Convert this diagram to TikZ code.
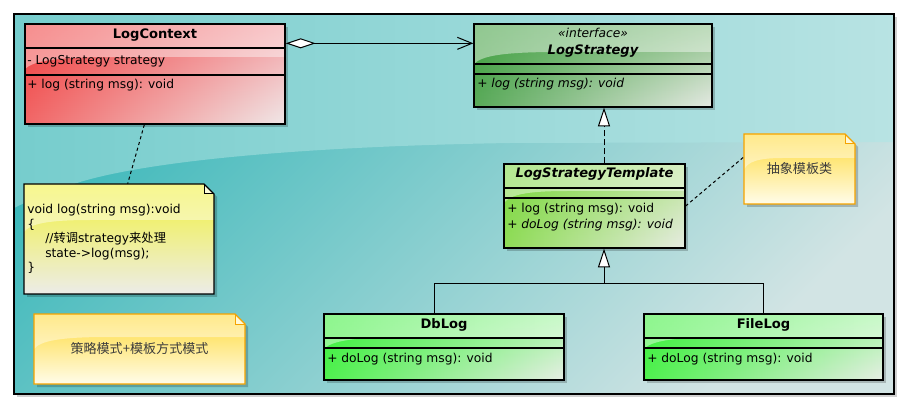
\documentclass[tikz,border=0pt]{standalone}
\usepackage{fontspec}
\setmainfont{DejaVu Sans}
\newfontfamily\cjk{Noto Sans CJK SC}
\usetikzlibrary{arrows.meta,fadings}
\tikzfading[name=fadebottom, top color=transparent!100, bottom color=transparent!0]
\definecolor{bgTL}{HTML}{3CB8BA}
\definecolor{bgBR}{HTML}{D2E4E4}
\definecolor{bandL}{HTML}{76CDCD}
\definecolor{bandR}{HTML}{B8E3E3}
\definecolor{ctxD}{HTML}{F03E3E}
\definecolor{ctxM}{HTML}{F4A0A4}
\definecolor{ctxB}{HTML}{F26868}
\definecolor{ctxP}{HTML}{F0E8E8}
\definecolor{stD}{HTML}{40A040}
\definecolor{stM}{HTML}{8EC28A}
\definecolor{stB}{HTML}{5AAA5A}
\definecolor{stP}{HTML}{E6EAE4}
\definecolor{tpD}{HTML}{7CD840}
\definecolor{tpM}{HTML}{B8E494}
\definecolor{tpB}{HTML}{90DC58}
\definecolor{tpP}{HTML}{E8ECE4}
\definecolor{lgD}{HTML}{3CF03C}
\definecolor{lgM}{HTML}{A0F4A0}
\definecolor{lgB}{HTML}{50F050}
\definecolor{lgP}{HTML}{E8EEE6}
\definecolor{codeT}{HTML}{F2F23C}
\definecolor{codeB}{HTML}{ECECE8}
\definecolor{noteT}{HTML}{FFDA38}
\definecolor{noteB}{HTML}{FFFCEA}
\definecolor{noteBorder}{HTML}{F5A300}
\definecolor{cjkText}{HTML}{3C3C3C}
% #1 name, #2 x1, #3 y1, #4 x2, #5 y2, #6 colour prefix, #7 gloss y
\newcommand{\umlbox}[7]{%
  \fill[black,opacity=0.2] ({#2+3},{#3+3}) rectangle ({#4+3},{#5+3});
  \shade[left color=#6D,right color=#6M] (#2,#3) rectangle (#4,#5);
  \shade[left color=#6B,right color=#6P,path fading=fadebottom] (#2,#3) rectangle (#4,#5);
  \fill[white,opacity=0.42] (#2,#3) -- (#4,#3) -- (#4,#7) -- ({#2+0.35*(#4-#2)},#7)
     .. controls ({#2+0.12*(#4-#2)},#7) and ({#2+0.03*(#4-#2)},{#7+4}) .. (#2,{#7+12}) -- cycle;
  \node[umlnode, minimum width={(#4-#2)*0.75pt}, minimum height={(#5-#3)*0.75pt}] (#1) at ({(#2+#4)/2},{(#3+#5)/2}) {};
}
% #1 name, #2 x1, #3 y1, #4 x2, #5 y2, #6 top, #7 bottom, #8 border, #9 gloss y
\newcommand{\umlnote}[9]{%
  \fill[black,opacity=0.2] ({#2+3},{#3+3}) -- ({#4-7},{#3+3}) -- ({#4+3},{#3+13}) -- ({#4+3},{#5+3}) -- ({#2+3},{#5+3}) -- cycle;
  \shade[top color=#6,bottom color=#7] (#2,#3) -- ({#4-10},#3) -- (#4,{#3+10}) -- (#4,#5) -- (#2,#5) -- cycle;
  \begin{scope}
    \clip (#2,#3) -- ({#4-10},#3) -- (#4,{#3+10}) -- (#4,#5) -- (#2,#5) -- cycle;
    \fill[white,opacity=0.42] (#2,#3) -- (#4,#3) -- (#4,#9) -- ({#2+0.35*(#4-#2)},#9)
       .. controls ({#2+0.12*(#4-#2)},#9) and ({#2+0.03*(#4-#2)},{#9+4}) .. (#2,{#9+12}) -- cycle;
  \end{scope}
  \fill[white!80!#6] ({#4-10},#3) -- ({#4-10},{#3+10}) -- (#4,{#3+10}) -- cycle;
  \draw[#8,line width=1pt,line join=miter] (#2,#3) -- ({#4-10},#3) -- (#4,{#3+10}) -- (#4,#5) -- (#2,#5) -- cycle;
  \draw[#8,line width=0.75pt] ({#4-10},#3) -- ({#4-10},{#3+10}) -- (#4,{#3+10});
  \node[inner sep=0pt, minimum width={(#4-#2)*0.75pt}, minimum height={(#5-#3)*0.75pt}] (#1) at ({(#2+#4)/2},{(#3+#5)/2}) {};
}
\begin{document}
\begin{tikzpicture}[x=0.75pt,y=-0.75pt,
  umlnode/.style={draw=black,line width=1pt,inner sep=0pt,rectangle},
  txt/.style={inner sep=0pt,font=\fontsize{9.2}{11}\selectfont,text=black},
  ttl/.style={inner sep=0pt,font=\fontsize{9.8}{12}\selectfont\bfseries,text=black},
  code/.style={inner sep=0pt,font=\fontsize{9.2}{11}\selectfont,text=black},
  cjknote/.style={inner sep=0pt,font=\fontsize{9.8}{12}\selectfont\cjk,text=cjkText},
  sep/.style={line width=0.9pt},
  conn/.style={line width=0.75pt,black},
  dotlink/.style={conn,dash pattern=on 2.4pt off 2.1pt},
  dashlink/.style={conn,dash pattern=on 4.5pt off 2.25pt},
  gentip/.style={-{Triangle[fill=white,length=14pt,width=9pt,line width=0.75pt]}}
]
\useasboundingbox (0,0) rectangle (909,409);
\fill[white] (0,0) rectangle (909,409);
% background frame
\fill[black!18] (17,17) rectangle (897,397);
\shade[top color=bgTL,bottom color=bgBR,shading angle=45] (14,14) rectangle (894,394);
\shade[left color=bandL,right color=bandR] (14,14) -- (894,14) -- (894,142) -- (510,143)
  .. controls (330,146) and (160,158) .. (80,182) .. controls (50,192) and (30,200) .. (14,208) -- cycle;
\draw[line width=0.9pt] (14,14) rectangle (894,394);

% classes
\umlbox{ctx}{25}{24}{285}{124}{ctx}{57}
\draw[sep] (ctx.west |- 0,48) -- (ctx.east |- 0,48);
\draw[sep] (ctx.west |- 0,75) -- (ctx.east |- 0,75);
\node[ttl,anchor=base] (ctxT) at (155,38.5) {LogContext};
\node[txt,anchor=base west] (ctxA) at (27,65) {- LogStrategy strategy};
\node[txt,anchor=base west] (ctxO) at (27,89) {+ log (string msg): void};

\umlbox{strat}{474}{24}{712}{107}{st}{52}
\draw[sep] (strat.west |- 0,64) -- (strat.east |- 0,64);
\draw[sep] (strat.west |- 0,74) -- (strat.east |- 0,74);
\node[txt,anchor=base] (stS) at (593,37.3) {\itshape «interface»};
\node[ttl,anchor=base] (stT) at (593,54.5) {\itshape LogStrategy};
\node[txt,anchor=base west] (stO) at (477,88) {\itshape + log (string msg): void};

\umlbox{tmpl}{504}{164}{685}{248}{tp}{191}
\draw[sep] (tmpl.west |- 0,188) -- (tmpl.east |- 0,188);
\draw[sep] (tmpl.west |- 0,198) -- (tmpl.east |- 0,198);
\node[ttl,anchor=base] (tpT) at (594.5,177.5) {\itshape LogStrategyTemplate};
\node[txt,anchor=base west] (tpO1) at (507,212.5) {+ log (string msg): void};
\node[txt,anchor=base west] (tpO2) at (507,229) {\itshape + doLog (string msg): void};

\umlbox{db}{324}{314}{564}{380}{lg}{337}
\draw[sep] (db.west |- 0,338) -- (db.east |- 0,338);
\draw[sep] (db.west |- 0,348) -- (db.east |- 0,348);
\node[ttl,anchor=base] (dbT) at (444,329) {DbLog};
\node[txt,anchor=base west] (dbO) at (327,362.5) {+ doLog (string msg): void};

\umlbox{file}{644}{314}{883}{380}{lg}{337}
\draw[sep] (file.west |- 0,338) -- (file.east |- 0,338);
\draw[sep] (file.west |- 0,348) -- (file.east |- 0,348);
\node[ttl,anchor=base] (flT) at (763.5,329) {FileLog};
\node[txt,anchor=base west] (flO) at (647,362.5) {+ doLog (string msg): void};

% notes
\umlnote{code}{24}{184}{214}{294}{codeT}{codeB}{black}{220}
\node[code,anchor=base west] (c1) at (27,214) {void log(string msg):void};
\node[code,anchor=base west] (c2) at (27,228.5) {\{};
\node[code,anchor=base west] (c3) at (45,243) {//{\cjk 转调}strategy{\cjk 来处理}};
\node[code,anchor=base west] (c4) at (45,257.5) {state->log(msg);};
\node[code,anchor=base west] (c5) at (27,272) {\}};

\umlnote{n1}{744}{134}{855}{204}{noteT}{noteB}{noteBorder}{158}
\node[cjknote] (n1t) at (799.5,169) {抽象模板类};

\umlnote{n2}{34}{314}{245}{384}{noteT}{noteB}{noteBorder}{337}
\node[cjknote] (n2t) at (139.5,348.5) {策略模式+模板方式模式};

% connectors
\draw[conn,{Diamond[fill=white,length=22.5pt,width=7.5pt,line width=0.75pt]}-{Straight Barb[length=11pt,width=9pt,line width=0.75pt]}]
  ([yshift=-15pt]ctx.north east) -- ([yshift=-15pt]strat.north west);
\coordinate (r1) at ([xshift=7.125pt]tmpl.north);
\draw[dashlink,gentip] (r1) -- (r1 |- strat.south);
\coordinate (j) at (604,284);
\draw[conn,gentip] (j) -- (j |- tmpl.south);
\draw[conn] ([xshift=-7.5pt]db.north) |- (j);
\draw[conn] (file.north) |- (j);
\draw[dotlink] ([xshift=-8pt]ctx.south) -- ([xshift=6.5pt]code.north);
\draw[dotlink] (tmpl.east) -- ([yshift=9pt]n1.west);
\end{tikzpicture}
\end{document}
